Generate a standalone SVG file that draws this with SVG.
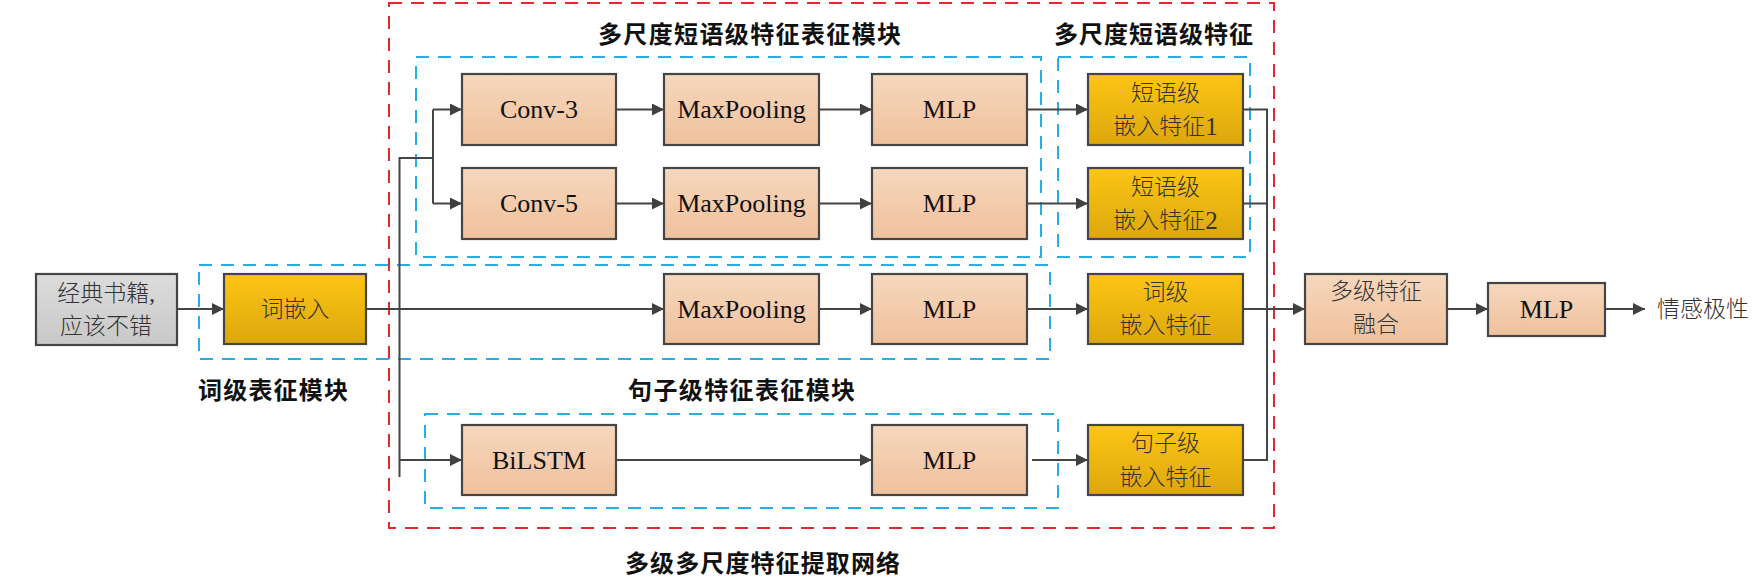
<svg xmlns="http://www.w3.org/2000/svg" width="1762" height="578" viewBox="0 0 1762 578">
<defs>
<linearGradient id="peach" x1="0" y1="0" x2="0" y2="1"><stop offset="0" stop-color="#F6D7BD"/><stop offset="1" stop-color="#EFC19C"/></linearGradient>
<linearGradient id="gold" x1="0" y1="0" x2="0" y2="1"><stop offset="0" stop-color="#FDC515"/><stop offset="1" stop-color="#DCA70D"/></linearGradient>
<linearGradient id="gray" x1="0" y1="0" x2="0" y2="1"><stop offset="0" stop-color="#DCDCDC"/><stop offset="1" stop-color="#C8C8C8"/></linearGradient>
<marker id="ah" viewBox="0 0 12 12" refX="12" refY="6" markerWidth="12" markerHeight="12" markerUnits="userSpaceOnUse" orient="auto"><path d="M0,0 L12,6 L0,12 Z" fill="#404040"/></marker>
<style>
.box{stroke:#454545;stroke-width:2.2}
.p{fill:url(#peach)}
.g{fill:url(#gold)}
.gr{fill:url(#gray)}
.en{font-family:"Liberation Serif","Times New Roman",serif;font-size:26px;fill:#111;text-anchor:middle;dominant-baseline:central}
.cn{font-family:"Liberation Serif","Noto Sans CJK SC",serif;font-size:23px;font-weight:300;fill:#333;text-anchor:middle;dominant-baseline:central}
.num{font-size:25px}
.title{font-family:"Noto Sans CJK SC",sans-serif;font-size:24px;font-weight:bold;fill:#111;dominant-baseline:central}
.red{fill:none;stroke:#E8262B;stroke-width:2;stroke-dasharray:13,9}
.blue{fill:none;stroke:#27AEE4;stroke-width:2;stroke-dasharray:13,9}
.c{fill:none;stroke:#454545;stroke-width:2}
.a{marker-end:url(#ah)}
</style>
</defs>
<rect width="1762" height="578" fill="#fff"/>

<g id="regions">
<rect class="red" x="389" y="3" width="885" height="525"/>
<rect class="blue" x="416" y="57" width="625" height="200"/>
<rect class="blue" x="1058" y="57" width="192" height="200"/>
<rect class="blue" x="199" y="265" width="851" height="94"/>
<rect class="blue" x="425" y="414" width="633" height="94"/>
</g>

<g id="labels">
<text class="title" x="598" y="32" textLength="303">多尺度短语级特征表征模块</text>
<text class="title" x="1054" y="32" textLength="199">多尺度短语级特征</text>
<text class="title" x="198" y="388" textLength="150">词级表征模块</text>
<text class="title" x="628" y="388" textLength="227">句子级特征表征模块</text>
<text class="title" x="625" y="561" textLength="275">多级多尺度特征提取网络</text>
</g>

<g id="connectors">
<path class="c a" d="M177,309 H224"/>
<path class="c a" d="M366,309 H664"/>
<path class="c" d="M399.5,477 V158 H433"/>
<path class="c a" d="M433,109.5 V203.5 M433,109.5 H462"/>
<path class="c a" d="M433,203.5 H462"/>
<path class="c a" d="M399.5,460 H462"/>
<path class="c a" d="M616,109.5 H664"/>
<path class="c a" d="M819,109.5 H872"/>
<path class="c a" d="M1027,109.5 H1088"/>
<path class="c a" d="M616,203.5 H664"/>
<path class="c a" d="M819,203.5 H872"/>
<path class="c a" d="M1027,203.5 H1088"/>
<path class="c a" d="M819,309 H872"/>
<path class="c a" d="M1027,309 H1088"/>
<path class="c a" d="M616,460 H872"/>
<path class="c a" d="M1032,460 H1088"/>
<path class="c" d="M1243,109.5 H1267 V460 H1243 M1243,203.5 H1267"/>
<path class="c a" d="M1243,309 H1305"/>
<path class="c a" d="M1447,309 H1488"/>
<path class="c a" d="M1605,309 H1645"/>
</g>

<g id="input"><rect class="box gr" x="36" y="274" width="141" height="71"/><text class="cn" x="106" y="293">经典书籍,</text><text class="cn" x="106" y="326">应该不错</text></g>
<g id="word-embed"><rect class="box g" x="224" y="274" width="142" height="70"/><text class="cn" x="295" y="309">词嵌入</text></g>

<g id="conv3"><rect class="box p" x="462" y="74" width="154" height="71"/><text class="en" x="539" y="109.5">Conv-3</text></g>
<g id="maxpool1"><rect class="box p" x="664" y="74" width="155" height="71"/><text class="en" x="741.5" y="109.5">MaxPooling</text></g>
<g id="mlp1"><rect class="box p" x="872" y="74" width="155" height="71"/><text class="en" x="949.5" y="109.5">MLP</text></g>
<g id="phrase1"><rect class="box g" x="1088" y="74" width="155" height="71"/><text class="cn" x="1165.5" y="93">短语级</text><text class="cn" x="1165.5" y="126">嵌入特征<tspan class="num">1</tspan></text></g>

<g id="conv5"><rect class="box p" x="462" y="168" width="154" height="71"/><text class="en" x="539" y="203.5">Conv-5</text></g>
<g id="maxpool2"><rect class="box p" x="664" y="168" width="155" height="71"/><text class="en" x="741.5" y="203.5">MaxPooling</text></g>
<g id="mlp2"><rect class="box p" x="872" y="168" width="155" height="71"/><text class="en" x="949.5" y="203.5">MLP</text></g>
<g id="phrase2"><rect class="box g" x="1088" y="168" width="155" height="71"/><text class="cn" x="1165.5" y="187">短语级</text><text class="cn" x="1165.5" y="220">嵌入特征<tspan class="num">2</tspan></text></g>

<g id="maxpool3"><rect class="box p" x="664" y="274" width="155" height="70"/><text class="en" x="741.5" y="309">MaxPooling</text></g>
<g id="mlp3"><rect class="box p" x="872" y="274" width="155" height="70"/><text class="en" x="949.5" y="309">MLP</text></g>
<g id="wordfeat"><rect class="box g" x="1088" y="274" width="155" height="70"/><text class="cn" x="1165.5" y="292">词级</text><text class="cn" x="1165.5" y="325">嵌入特征</text></g>

<g id="bilstm"><rect class="box p" x="462" y="425" width="154" height="70"/><text class="en" x="539" y="460">BiLSTM</text></g>
<g id="mlp4"><rect class="box p" x="872" y="425" width="155" height="70"/><text class="en" x="949.5" y="460">MLP</text></g>
<g id="sentfeat"><rect class="box g" x="1088" y="425" width="155" height="70"/><text class="cn" x="1165.5" y="443">句子级</text><text class="cn" x="1165.5" y="477">嵌入特征</text></g>

<g id="fusion"><rect class="box p" x="1305" y="274" width="142" height="70"/><text class="cn" x="1376" y="291">多级特征</text><text class="cn" x="1376" y="324">融合</text></g>
<g id="mlp-out"><rect class="box p" x="1488" y="283" width="117" height="53"/><text class="en" x="1546.5" y="309.5">MLP</text></g>
<g id="output"><text class="cn" x="1703" y="309" fill="#444">情感极性</text></g>
</svg>
